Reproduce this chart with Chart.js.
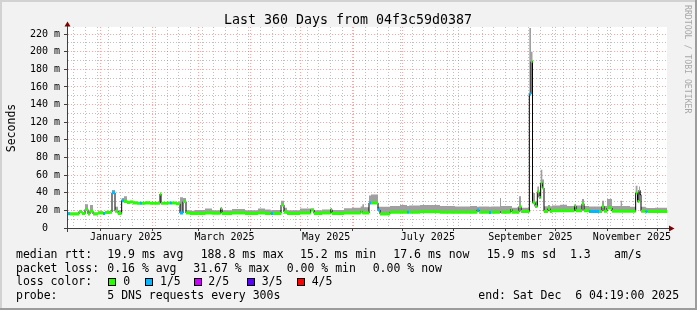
<!DOCTYPE html>
<html>
<head>
<meta charset="utf-8">
<title>Last 360 Days from 04f3c59d0387</title>
<script src="https://cdn.jsdelivr.net/npm/chart.js@4.4.1/dist/chart.umd.min.js"></script>
<style>
  html, body { margin: 0; padding: 0; background: #f2f2f2; }
  canvas { display: block; }
</style>
</head>
<body>
<canvas id="chart" width="697" height="310"></canvas>
<script>
// x axis in days since the start of the 360 day window (1 Jan 2025 = day 20)
const xMax = 360;
const yMax = 228;
const monthStart = [20, 51, 79, 110, 140, 171, 201, 232, 263, 293, 324, 354];
const monthLabels = ['January 2025', 'March 2025', 'May 2025', 'July 2025', 'September 2025', 'November 2025'];
const firstMonday = 4;
const yMajor = [0, 20, 40, 60, 80, 100, 120, 140, 160, 180, 200, 220];

// median rtt steps (ms), smoke top (ms) and lost pings out of 5
const stepDay = [
  0, 1.8, 7.2, 9, 10.8, 12.6, 13.8, 15.6, 18.6, 21.6,
  22.8, 25.8, 27, 28.8, 30.6, 32.8, 34.2, 36, 37.8, 39.6,
  42, 43.8, 45, 46.8, 49.8, 55.8, 56.4, 60.6, 61.8, 63,
  65.4, 67.8, 69.6, 71.4, 73.8, 76.8, 82.8, 87, 92.2, 93,
  99, 106.8, 114.6, 118.8, 122.2, 123.6, 128.4, 130.2, 132, 139.8,
  146.2, 148.2, 153, 158.2, 159, 166.2, 171, 176.2, 177.2, 178.2,
  181.2, 182.4, 186.6, 187.8, 193.8, 199.8, 204, 205.2, 211.8, 223.8,
  232.8, 241.8, 246, 247.2, 253.2, 254.4, 259.8, 260.4, 266.2, 267,
  271.2, 272.4, 277.4, 278.4, 279.3, 280.8, 282.2, 283.2, 284.2, 285.2,
  286.2, 288.6, 289.8, 291, 295.8, 300, 304.5, 305.4, 309, 310.2,
  313.2, 319.2, 321, 322.2, 324, 327, 332.2, 333, 337.8, 341.2,
  342.3, 343.2, 343.8, 344.4, 347.2, 348.2, 352.8
];
const medianRtt = [
  16.2, 16, 18.8, 16.5, 21, 16, 19, 16, 17, 16.5,
  17.5, 18, 40, 19, 16.5, 31, 30, 29, 29.5, 28.5,
  28, 28, 28, 28.5, 28, 38.5, 28, 28.5, 28.5, 28.5,
  27.5, 17, 30, 17, 16.5, 16.5, 17, 16.8, 22, 16.5,
  17, 16.5, 17, 16.5, 16.5, 16.5, 26, 18, 16.5, 17,
  20.5, 16.5, 17, 21, 16.5, 17, 17, 19, 17, 17,
  28.5, 28.5, 20.5, 16, 18, 18, 18, 18, 18.5, 18,
  18, 18, 20.5, 18, 17.5, 18, 18, 18, 21, 18,
  24.5, 18.8, 152, 188.8, 28.7, 24.5, 41, 34.7, 51, 45.4,
  18.8, 22, 18.8, 19.6, 19.6, 19.6, 25, 19.6, 27.6, 19.6,
  18.8, 18.8, 24.5, 19, 22.7, 19, 19, 19, 19, 39.7,
  30, 43, 37.8, 19, 18.5, 18.8, 18.8
];
const smokeMax = [
  18, 17.5, 20, 18, 27, 18, 26, 17.5, 19, 18,
  19, 20, 43, 24, 20, 34, 36, 31, 31, 30,
  29.5, 29.5, 29.5, 30, 29.5, 40, 29.5, 29.5, 29.5, 29.5,
  29, 35, 34, 20, 19.5, 20.5, 22, 20, 23, 20,
  21.5, 20, 22, 21, 20, 20.5, 31, 23, 20, 22,
  22, 20, 21, 22, 20.5, 22.5, 23, 24.5, 27, 23.5,
  37, 38, 24, 24, 25, 26, 25, 25.5, 26, 25,
  24.5, 25, 24, 24.5, 24, 24.5, 34, 25, 25, 23,
  36, 23, 227, 200, 39.7, 30, 47, 40, 66, 55,
  24.6, 26, 24.6, 25.5, 26.4, 25, 27, 25.5, 33, 25,
  24.5, 24.5, 31, 25, 33, 25, 31, 25, 24, 48,
  40, 47, 42, 24, 23, 22.7, 23
];
const lostPings = [
  1, 0, 0, 0, 0, 0, 0, 0, 0, 1,
  0, 0, 1, 0, 0, 1, 0, 0, 0, 0,
  0, 1, 0, 0, 0, 0, 0, 0, 1, 0,
  0, 1, 0, 0, 0, 0, 0, 0, 0, 0,
  0, 0, 0, 0, 1, 0, 0, 0, 0, 0,
  0, 0, 0, 0, 0, 0, 0, 0, 0, 0,
  1, 0, 1, 0, 0, 0, 1, 0, 0, 0,
  0, 0, 1, 0, 1, 0, 0, 0, 0, 0,
  0, 0, 1, 0, 0, 0, 0, 0, 0, 0,
  0, 0, 0, 0, 0, 0, 0, 0, 0, 0,
  1, 0, 0, 0, 0, 0, 0, 0, 0, 0,
  0, 0, 0, 0, 1, 0, 0
];

const lossColors = ['#26ff00', '#00b8ff', '#cc00ff', '#5a00ff', '#ff0000'];
const lossNames = ['0', '1/5', '2/5', '3/5', '4/5'];

const majorGrid = 'rgba(255, 60, 60, 0.45)';
const minorGrid = 'rgba(130, 130, 130, 0.5)';
const axisColor = '#404040';
const arrowColor = '#7f0000';
const mono = "'DejaVu Sans Mono', monospace";

// stepped series: one point per step plus the closing point at the window end
function stepped(values) {
  const pts = stepDay.map((d, i) => ({ x: d, y: values[i] }));
  pts.push({ x: xMax, y: values[values.length - 1] });
  return pts;
}

// thick loss-coloured median bars, flat pieces only
function lossBand(n) {
  const pts = [];
  stepDay.forEach((d, i) => {
    if (lostPings[i] !== n) return;
    const end = i + 1 < stepDay.length ? stepDay[i + 1] : xMax;
    pts.push({ x: d, y: medianRtt[i] }, { x: end, y: medianRtt[i] }, { x: end, y: null });
  });
  return pts;
}

const legendRows = [
  { y: 257.7, items: [[16, 'median rtt:'], [107.3, '19.9 ms avg'], [200.7, '188.8 ms max'], [300, '15.2 ms min'], [393.3, '17.6 ms now'], [486.7, '15.9 ms sd'], [570, '1.3'], [614, 'am/s']] },
  { y: 271.5, items: [[16, 'packet loss:'], [107.3, '0.16 % avg'], [193.3, '31.67 % max'], [286.7, '0.00 % min'], [372.7, '0.00 % now']] },
  { y: 285.3, items: [[16, 'loss color:']] },
  { y: 299.2, items: [[16, 'probe:'], [107.3, '5 DNS requests every 300s'], [478.3, 'end: Sat Dec  6 04:19:00 2025']] }
];
const swatchX = [108.5, 145.5, 194.5, 247.5, 297.5];
const swatchLabelX = [123.3, 160, 208.3, 261.7, 311.7];

const deco = {
  id: 'deco',
  beforeDraw(chart) {
    const { ctx, chartArea: a, width: W, height: H } = chart;
    ctx.save();
    ctx.fillStyle = '#f2f2f2';
    ctx.fillRect(0, 0, W, H);
    ctx.fillStyle = '#d2d2d2';
    ctx.fillRect(0, 0, W, 2);
    ctx.fillRect(0, 0, 2, H);
    ctx.fillStyle = '#9c9c9c';
    ctx.fillRect(0, H - 2, W, 2);
    ctx.fillRect(W - 2, 0, 2, H);
    ctx.fillStyle = '#ffffff';
    ctx.fillRect(a.left, a.top, a.right - a.left, a.bottom - a.top);
    ctx.restore();
  },
  afterDraw(chart) {
    const { ctx, chartArea: a } = chart;
    ctx.save();
    // axis lines with arrows
    ctx.strokeStyle = axisColor;
    ctx.lineWidth = 1;
    ctx.beginPath();
    ctx.moveTo(a.left + 0.5, a.bottom + 4);
    ctx.lineTo(a.left + 0.5, a.top - 1);
    ctx.moveTo(a.left - 3, a.bottom + 0.5);
    ctx.lineTo(a.right + 2, a.bottom + 0.5);
    ctx.stroke();
    ctx.fillStyle = arrowColor;
    ctx.beginPath();
    ctx.moveTo(a.left + 0.5, a.top - 5.5);
    ctx.lineTo(a.left - 2.5, a.top - 0.5);
    ctx.lineTo(a.left + 3.5, a.top - 0.5);
    ctx.closePath();
    ctx.fill();
    ctx.beginPath();
    ctx.moveTo(a.right + 7.5, a.bottom + 0.5);
    ctx.lineTo(a.right + 2, a.bottom - 2.5);
    ctx.lineTo(a.right + 2, a.bottom + 3.5);
    ctx.closePath();
    ctx.fill();

    // title
    ctx.fillStyle = '#000';
    ctx.textBaseline = 'alphabetic';
    ctx.textAlign = 'center';
    ctx.font = '13.3px ' + mono;
    ctx.fillText('Last 360 Days from 04f3c59d0387', 348, 24);

    // vertical axis title
    ctx.save();
    ctx.font = '11.5px ' + mono;
    ctx.translate(15, 128);
    ctx.rotate(-Math.PI / 2);
    ctx.fillText('Seconds', 0, 0);
    ctx.restore();

    // watermark
    ctx.save();
    ctx.fillStyle = '#a8a8a8';
    ctx.font = '8.2px ' + mono;
    ctx.textAlign = 'left';
    ctx.translate(685, 5);
    ctx.rotate(Math.PI / 2);
    ctx.fillText('RRDTOOL / TOBI OETIKER', 0, 0);
    ctx.restore();

    // legend
    ctx.textAlign = 'left';
    ctx.font = '11.5px ' + mono;
    legendRows.forEach(row => {
      row.items.forEach(([x, t]) => ctx.fillText(t, x, row.y));
    });
    lossColors.forEach((c, i) => {
      ctx.fillStyle = c;
      ctx.fillRect(swatchX[i], 278.5, 7, 7);
      ctx.strokeStyle = '#000';
      ctx.strokeRect(swatchX[i], 278.5, 7, 7);
      ctx.fillStyle = '#000';
      ctx.fillText(lossNames[i], swatchLabelX[i], 285.3);
    });
    ctx.restore();
  }
};

const isMonth = v => monthStart.includes(v);
const isMajorY = v => yMajor.includes(v);
const labelDays = monthLabels.map((_, k) => (monthStart[2 * k] + monthStart[2 * k + 1]) / 2);

new Chart(document.getElementById('chart'), {
  type: 'line',
  data: {
    datasets: [
      { label: 'smoke base', data: stepped(medianRtt), stepped: 'before', borderWidth: 0, borderColor: 'rgba(0,0,0,0)', pointRadius: 0, fill: false, order: 6 },
      { label: 'smoke', data: stepped(smokeMax), stepped: 'before', borderWidth: 0, borderColor: 'rgba(0,0,0,0)', backgroundColor: '#a0a0a0', pointRadius: 0, fill: '-1', order: 5 },
      { label: 'median', data: stepped(medianRtt), stepped: 'before', borderWidth: 1, borderColor: '#000000', pointRadius: 0, fill: false, order: 3 },
      { label: 'loss 1/5', data: lossBand(1), borderWidth: 3, borderColor: lossColors[1], borderCapStyle: 'butt', pointRadius: 0, fill: false, spanGaps: false, order: 2 },
      { label: 'loss 0', data: lossBand(0), borderWidth: 3, borderColor: lossColors[0], borderCapStyle: 'butt', pointRadius: 0, fill: false, spanGaps: false, order: 1 }
    ]
  },
  options: {
    responsive: false,
    animation: false,
    events: [],
    layout: { padding: { left: 0, top: 27, right: 30, bottom: 62 } },
    plugins: { legend: { display: false }, tooltip: { enabled: false }, title: { display: false } },
    scales: {
      x: {
        type: 'linear', min: 0, max: xMax, position: 'bottom', weight: 0,
        afterBuildTicks: s => {
          const t = [];
          for (let d = firstMonday; d < xMax; d += 7) t.push(d);
          monthStart.forEach(d => { if (!t.includes(d)) t.push(d); });
          s.ticks = t.sort((p, q) => p - q).map(v => ({ value: v }));
        },
        afterFit: s => { s.height = 0; },
        ticks: { display: false },
        grid: {
          color: c => isMonth(c.tick.value) ? majorGrid : minorGrid,
          drawTicks: true, tickLength: 3,
          tickColor: c => isMonth(c.tick.value) ? axisColor : 'rgba(0,0,0,0)'
        },
        border: { display: true, color: axisColor, width: 1, dash: [1, 2] }
      },
      xl: {
        type: 'linear', min: 0, max: xMax, position: 'bottom', weight: 1,
        afterBuildTicks: s => { s.ticks = labelDays.map(v => ({ value: v })); },
        afterFit: s => { s.height = 20; },
        grid: { display: false, drawTicks: false },
        border: { display: false },
        ticks: {
          autoSkip: false, maxRotation: 0, padding: 3, color: '#000',
          font: { family: mono, size: 10 },
          callback: (v, i) => monthLabels[i]
        }
      },
      y: {
        min: 0, max: yMax,
        afterBuildTicks: s => {
          const t = [];
          yMajor.forEach(v => { t.push(v); if (v + 10 < yMax) t.push(v + 10); });
          s.ticks = t.map(v => ({ value: v }));
        },
        afterFit: s => { s.width = 67; },
        ticks: {
          autoSkip: false, padding: 4, color: '#000',
          font: { family: mono, size: 10 },
          callback: v => !isMajorY(v) ? '' : (v === 0 ? '0  ' : v + ' m')
        },
        grid: {
          color: c => isMajorY(c.tick.value) ? majorGrid : minorGrid,
          drawTicks: true, tickLength: 3,
          tickColor: c => isMajorY(c.tick.value) ? axisColor : 'rgba(0,0,0,0)'
        },
        border: { color: axisColor, width: 1, dash: [1, 2] }
      }
    }
  },
  plugins: [deco]
});
</script>
</body>
</html>
